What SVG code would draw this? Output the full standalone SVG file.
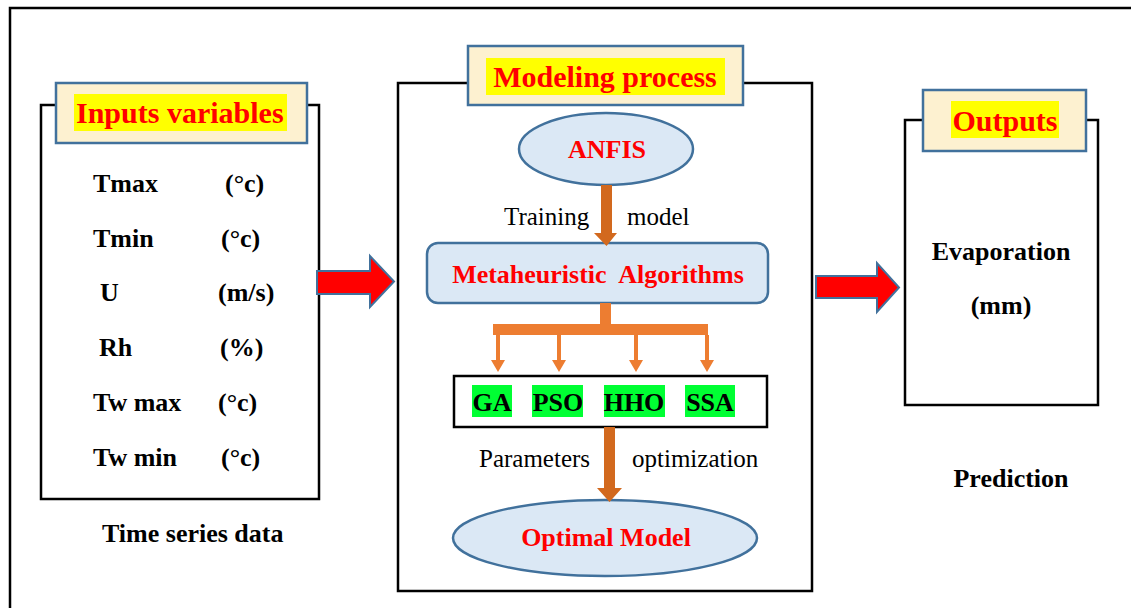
<svg xmlns="http://www.w3.org/2000/svg" width="1131" height="608" viewBox="0 0 1131 608">
<style>
.frame{fill:none;stroke:#000;stroke-width:2.5}
.title{fill:#fdf1d0;stroke:#41719c;stroke-width:2.5}
.hl{fill:#ffff00}
text{font-family:'Liberation Serif','Times New Roman','DejaVu Serif',serif}
.tt{font-weight:bold;font-size:30px;fill:#ff0000}
.red{font-weight:bold;font-size:26px;fill:#ff0000}
.b{font-weight:bold;font-size:26px;fill:#000}
.r{font-size:25px;fill:#000}
.blue{fill:#dbe8f5;stroke:#41719c;stroke-width:2.5}
.bigarrow{fill:#ff0000;stroke:#41719c;stroke-width:2}
.orange{fill:#d2691e}
.branch{fill:#ed7d31}
.green{fill:#00ff33}
</style>
<rect width="1131" height="608" fill="#fff"/>
<path d="M10,608 V8 H1131" fill="none" stroke="#000" stroke-width="2.5"/>

<g id="inputs">
<rect class="frame" x="41" y="105" width="278" height="394"/>
<rect class="title" x="56" y="83" width="251" height="60"/>
<rect class="hl" x="74" y="94" width="213" height="37"/>
<text class="tt" x="76" y="123" font-family="Liberation Serif">Inputs variables</text>
<text class="b" x="93" y="192">Tmax</text><text class="b" x="225" y="192">(°c)</text>
<text class="b" x="93" y="247">Tmin</text><text class="b" x="221" y="247">(°c)</text>
<text class="b" x="100" y="301">U</text><text class="b" x="218" y="301">(m/s)</text>
<text class="b" x="99" y="356">Rh</text><text class="b" x="220" y="356">(%)</text>
<text class="b" x="93" y="411">Tw max</text><text class="b" x="218" y="411">(°c)</text>
<text class="b" x="93" y="466">Tw min</text><text class="b" x="221" y="466">(°c)</text>
<text class="b" x="102" y="542">Time series data</text>
</g>

<g id="modeling">
<rect class="frame" x="398" y="83" width="414" height="508"/>
<rect class="title" x="468" y="46" width="275" height="59"/>
<rect class="hl" x="486" y="58" width="239" height="37"/>
<text class="tt" x="605" y="87" text-anchor="middle">Modeling process</text>
</g>

<g id="anfis">
<ellipse class="blue" cx="606" cy="149" rx="87" ry="36"/>
<text class="red" x="607" y="158" text-anchor="middle">ANFIS</text>
</g>

<g id="meta">
<rect class="blue" x="427" y="243" width="341" height="60" rx="11"/>
<text class="red" x="598" y="283" text-anchor="middle" xml:space="preserve">Metaheuristic  Algorithms</text>
</g>

<g id="algos">
<rect x="454" y="376" width="313" height="51" fill="#fff" stroke="#000" stroke-width="2.5"/>
<rect class="green" x="472" y="385" width="40" height="32"/>
<rect class="green" x="532" y="385" width="51" height="32"/>
<rect class="green" x="604" y="385" width="61" height="32"/>
<rect class="green" x="685" y="385" width="50" height="32"/>
<text class="b" x="492" y="411" text-anchor="middle">GA</text>
<text class="b" x="558" y="411" text-anchor="middle">PSO</text>
<text class="b" x="634" y="411" text-anchor="middle">HHO</text>
<text class="b" x="710" y="411" text-anchor="middle">SSA</text>
</g>

<g id="optimal">
<ellipse class="blue" cx="605" cy="538" rx="152" ry="38"/>
<text class="red" x="606" y="546" text-anchor="middle">Optimal Model</text>
</g>

<g id="outputs">
<rect class="frame" x="905" y="120" width="193" height="285"/>
<rect class="title" x="923" y="90" width="163" height="61"/>
<rect class="hl" x="951" y="101" width="108" height="37"/>
<text class="tt" x="1005" y="131" text-anchor="middle">Outputs</text>
<text class="b" x="1001" y="260" text-anchor="middle">Evaporation</text>
<text class="b" x="1001" y="314" text-anchor="middle">(mm)</text>
<text class="b" x="1011" y="487" text-anchor="middle">Prediction</text>
</g>

<g id="connectors">
<path class="bigarrow" d="M317,271 H370 V256 L394,281.5 L370,307 V294 H317 Z"/>
<path class="bigarrow" d="M816,276 H877 V263 L899,287.5 L877,312 V298 H816 Z"/>
<path class="orange" d="M601,185 H612 V233 H617 L606.5,246 L594,233 H601 Z"/>
<text class="r" x="504" y="225">Training</text>
<text class="r" x="627" y="225">model</text>
<path class="branch" d="M600,303 H611 V324 H708 V335 H493 V324 H600 Z"/>
<path class="branch" d="M496,335 H500 V360 H505 L498,372 L491,360 H496 Z"/>
<path class="branch" d="M557,335 H561 V360 H566 L559,372 L552,360 H557 Z"/>
<path class="branch" d="M634,335 H638 V360 H643 L636,372 L629,360 H634 Z"/>
<path class="branch" d="M705,335 H709 V360 H714 L707,372 L700,360 H705 Z"/>
<path class="orange" d="M604,427 H615 V488 H622 L609.5,502 L597,488 H604 Z"/>
<text class="r" x="479" y="467">Parameters</text>
<text class="r" x="632" y="467">optimization</text>
</g>
</svg>
